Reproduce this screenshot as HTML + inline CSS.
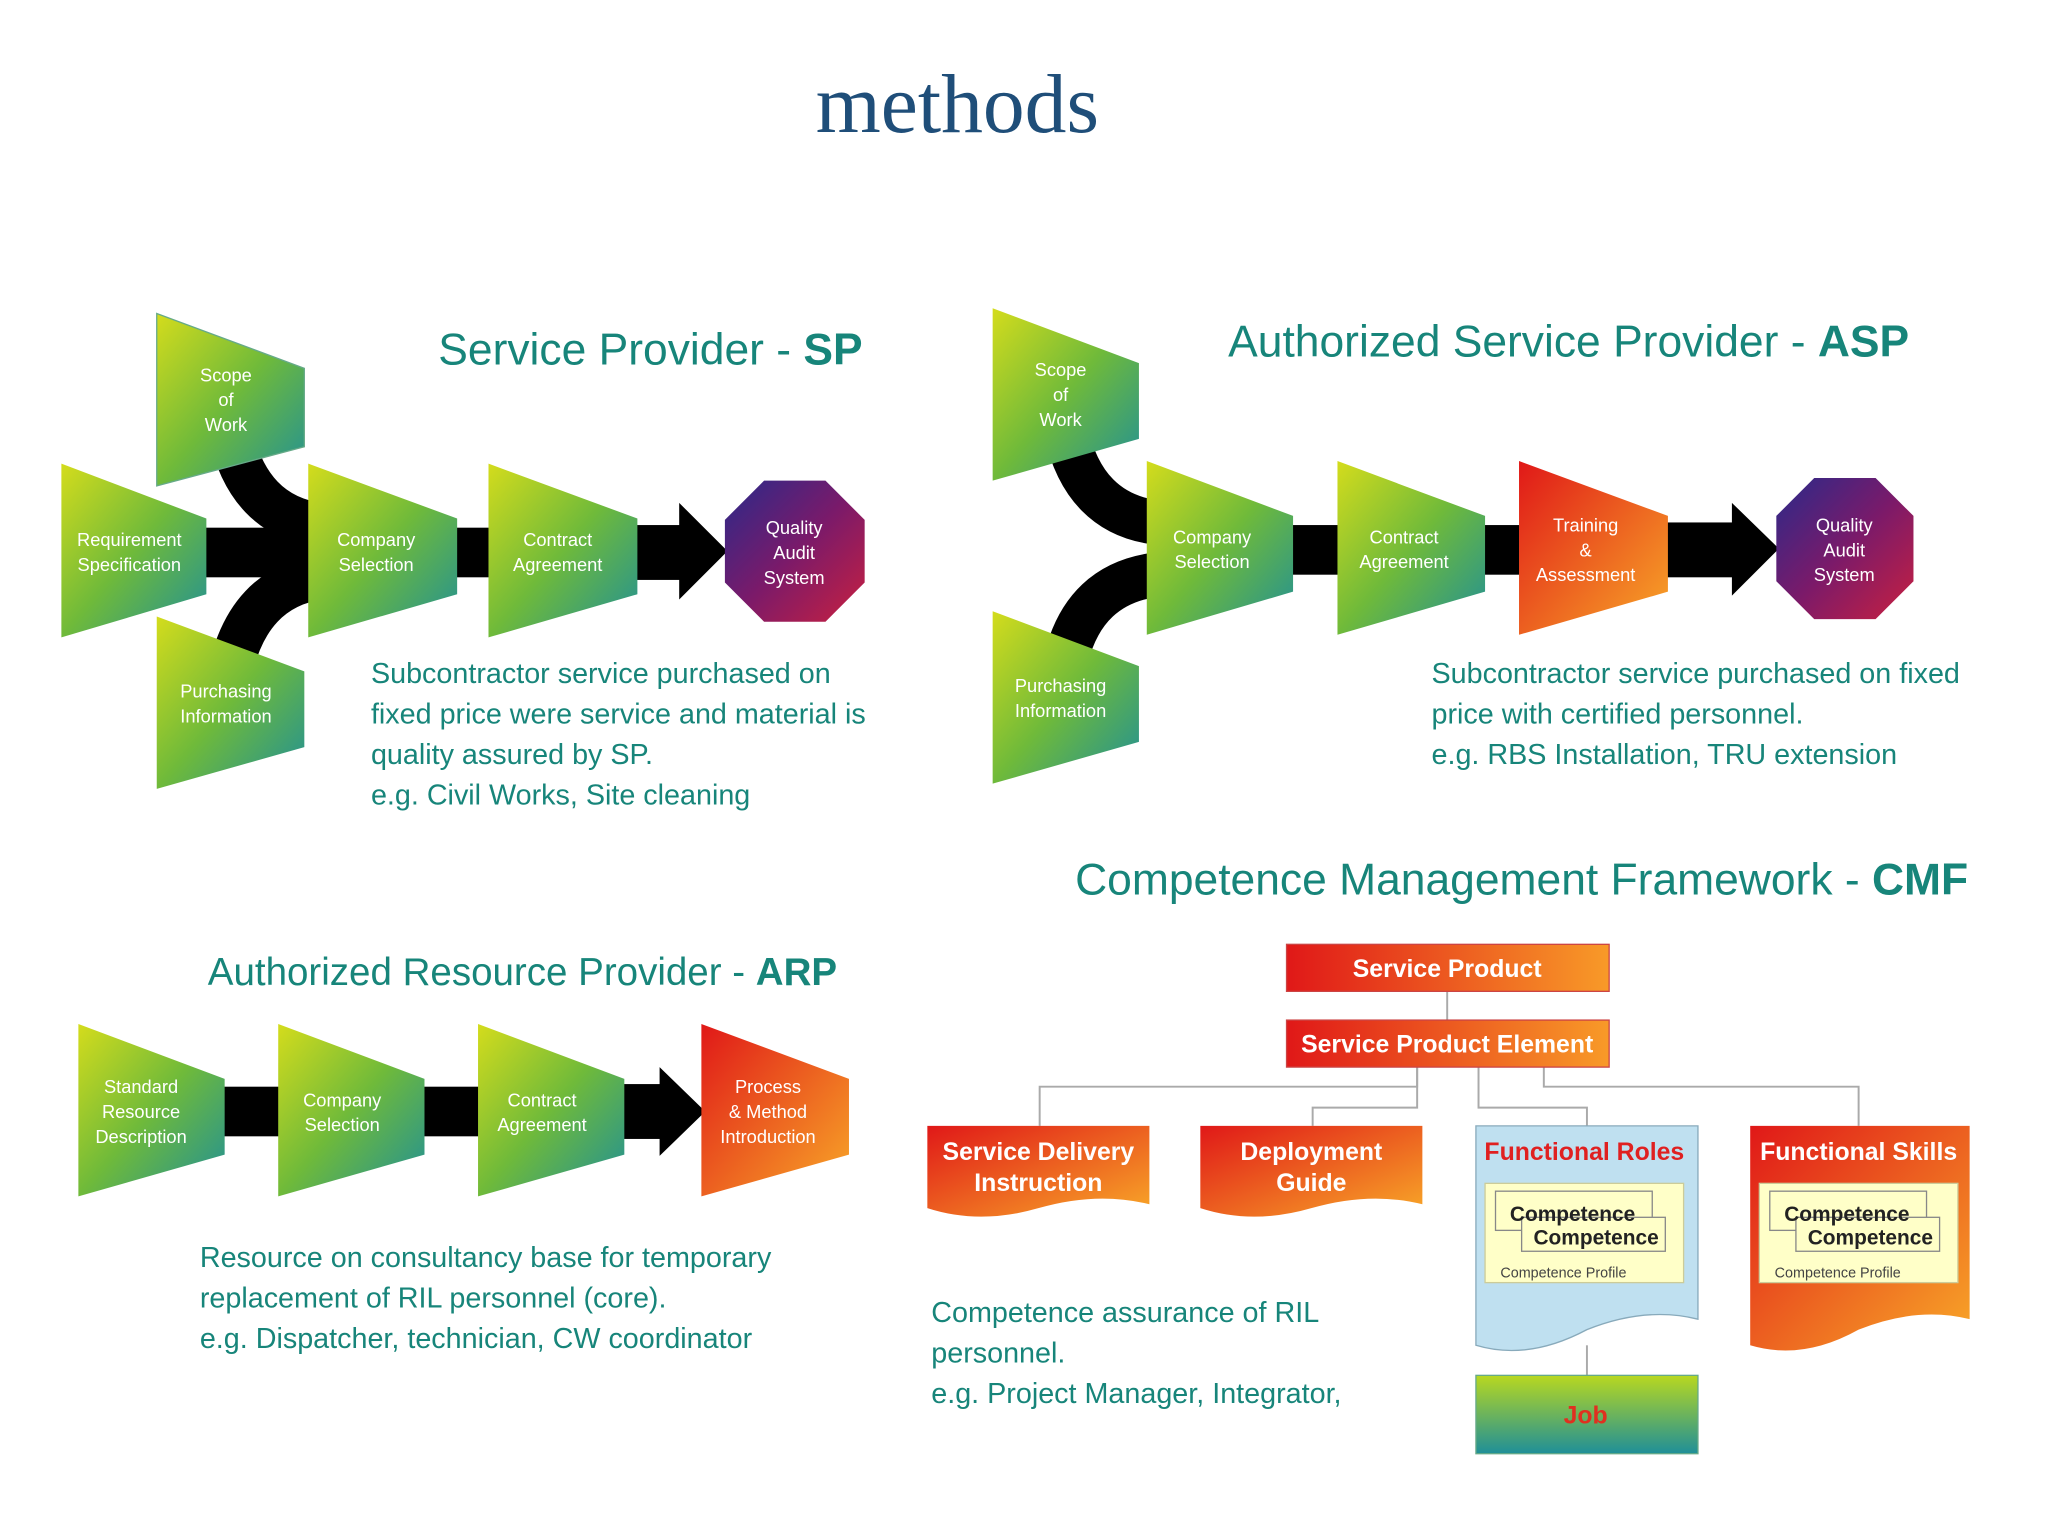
<!DOCTYPE html>
<html><head><meta charset="utf-8"><style>
html,body{margin:0;padding:0;background:#fff;}
svg{display:block;}
.t{font-family:"Liberation Sans",sans-serif;}
.lbl{font-family:"Liberation Sans",sans-serif;font-size:14px;fill:#fff;text-anchor:middle;}
.body{font-family:"Liberation Sans",sans-serif;font-size:22px;fill:#17857a;}
.ttl{font-family:"Liberation Sans",sans-serif;font-size:34px;fill:#17857a;}
.wb{font-family:"Liberation Sans",sans-serif;font-size:19px;fill:#fff;font-weight:bold;text-anchor:middle;}
</style></head><body>
<svg width="2048" height="1536" viewBox="0 0 1568 1176" xmlns="http://www.w3.org/2000/svg">
<defs>
<linearGradient id="g" x1="0" y1="0" x2="1" y2="1"><stop offset="0" stop-color="#d4dc1c"/><stop offset="0.5" stop-color="#6fba3a"/><stop offset="1" stop-color="#1f8f98"/></linearGradient>
<linearGradient id="r" x1="0" y1="0" x2="1" y2="1"><stop offset="0" stop-color="#e01818"/><stop offset="1" stop-color="#f8a828"/></linearGradient>
<linearGradient id="rh" x1="0" y1="0" x2="1" y2="0"><stop offset="0" stop-color="#e01818"/><stop offset="1" stop-color="#f89a28"/></linearGradient>
<linearGradient id="p" x1="0" y1="0" x2="1" y2="1"><stop offset="0" stop-color="#2a2a8a"/><stop offset="0.5" stop-color="#7a1a6a"/><stop offset="1" stop-color="#c82040"/></linearGradient>
<linearGradient id="gj" x1="0" y1="0" x2="0" y2="1"><stop offset="0" stop-color="#b8d820"/><stop offset="1" stop-color="#1f8f98"/></linearGradient>
</defs>
<rect width="1568" height="1176" fill="#fff"/>
<text x="733" y="101" font-family="Liberation Serif,serif" font-size="64" fill="#1f4e79" text-anchor="middle">methods</text>

<!-- SP -->
<text x="498" y="279" class="ttl" text-anchor="middle">Service Provider - <tspan font-weight="bold">SP</tspan></text>
<path d="M176,330 Q190,395 245,402" stroke="#000" stroke-width="34" fill="none"/>
<path d="M176,515 Q190,450 245,442" stroke="#000" stroke-width="34" fill="none"/>
<rect x="150" y="404" width="95" height="38" fill="#000"/>
<rect x="345" y="404" width="35" height="38" fill="#000"/>
<rect x="484" y="402" width="40" height="42" fill="#000"/>
<polygon points="520,385 557,422 520,459" fill="#000"/>
<polygon points="120,240 233,282 233,342 120,372" fill="url(#g)" stroke="#6a8" stroke-width="1"/>
<text class="lbl"><tspan x="173" y="292">Scope</tspan><tspan x="173" y="311">of</tspan><tspan x="173" y="330">Work</tspan></text>
<polygon points="47,355 158,397 158,455 47,488" fill="url(#g)"/>
<text class="lbl"><tspan x="99" y="418">Requirement</tspan><tspan x="99" y="437">Specification</tspan></text>
<polygon points="120,472 233,514 233,572 120,604" fill="url(#g)"/>
<text class="lbl"><tspan x="173" y="534">Purchasing</tspan><tspan x="173" y="553">Information</tspan></text>
<polygon points="236,355 350,397 350,455 236,488" fill="url(#g)"/>
<text class="lbl"><tspan x="288" y="418">Company</tspan><tspan x="288" y="437">Selection</tspan></text>
<polygon points="374,355 488,397 488,455 374,488" fill="url(#g)"/>
<text class="lbl"><tspan x="427" y="418">Contract</tspan><tspan x="427" y="437">Agreement</tspan></text>
<polygon points="585,368 632,368 662,398 662,446 632,476 585,476 555,446 555,398" fill="url(#p)"/>
<text class="lbl"><tspan x="608" y="409">Quality</tspan><tspan x="608" y="428">Audit</tspan><tspan x="608" y="447">System</tspan></text>
<text class="body"><tspan x="284" y="523">Subcontractor service purchased on</tspan><tspan x="284" y="554">fixed price were service and material is</tspan><tspan x="284" y="585">quality assured by SP.</tspan><tspan x="284" y="616">e.g. Civil Works, Site cleaning</tspan></text>

<!-- ASP -->
<text x="1201" y="273" class="ttl" text-anchor="middle">Authorized Service Provider - <tspan font-weight="bold">ASP</tspan></text>
<path d="M816,330 Q830,393 885,400" stroke="#000" stroke-width="34" fill="none"/>
<path d="M816,505 Q830,447 885,440" stroke="#000" stroke-width="34" fill="none"/>
<rect x="985" y="402" width="45" height="38" fill="#000"/>
<rect x="1130" y="402" width="40" height="38" fill="#000"/>
<rect x="1272" y="400" width="60" height="42" fill="#000"/>
<polygon points="1326,385 1362,420 1326,456" fill="#000"/>
<polygon points="760,236 872,278 872,336 760,368" fill="url(#g)"/>
<text class="lbl"><tspan x="812" y="288">Scope</tspan><tspan x="812" y="307">of</tspan><tspan x="812" y="326">Work</tspan></text>
<polygon points="760,468 872,510 872,568 760,600" fill="url(#g)"/>
<text class="lbl"><tspan x="812" y="530">Purchasing</tspan><tspan x="812" y="549">Information</tspan></text>
<polygon points="878,353 990,395 990,453 878,486" fill="url(#g)"/>
<text class="lbl"><tspan x="928" y="416">Company</tspan><tspan x="928" y="435">Selection</tspan></text>
<polygon points="1024,353 1137,395 1137,453 1024,486" fill="url(#g)"/>
<text class="lbl"><tspan x="1075" y="416">Contract</tspan><tspan x="1075" y="435">Agreement</tspan></text>
<polygon points="1163,353 1277,395 1277,453 1163,486" fill="url(#r)"/>
<text class="lbl"><tspan x="1214" y="407">Training</tspan><tspan x="1214" y="426">&amp;</tspan><tspan x="1214" y="445">Assessment</tspan></text>
<polygon points="1389,366 1436,366 1465,395 1465,445 1436,474 1389,474 1360,445 1360,395" fill="url(#p)"/>
<text class="lbl"><tspan x="1412" y="407">Quality</tspan><tspan x="1412" y="426">Audit</tspan><tspan x="1412" y="445">System</tspan></text>
<text class="body"><tspan x="1096" y="523">Subcontractor service purchased on fixed</tspan><tspan x="1096" y="554">price with certified personnel.</tspan><tspan x="1096" y="585">e.g. RBS Installation, TRU extension</tspan></text>

<!-- ARP -->
<text x="400" y="754" class="ttl" text-anchor="middle" style="font-size:29.5px">Authorized Resource Provider - <tspan font-weight="bold">ARP</tspan></text>
<rect x="168" y="832" width="50" height="38" fill="#000"/>
<rect x="320" y="832" width="50" height="38" fill="#000"/>
<rect x="470" y="830" width="40" height="42" fill="#000"/>
<polygon points="505,817 540,851 505,885" fill="#000"/>
<polygon points="60,784 172,826 172,884 60,916" fill="url(#g)"/>
<text class="lbl"><tspan x="108" y="837">Standard</tspan><tspan x="108" y="856">Resource</tspan><tspan x="108" y="875">Description</tspan></text>
<polygon points="213,784 325,826 325,884 213,916" fill="url(#g)"/>
<text class="lbl"><tspan x="262" y="847">Company</tspan><tspan x="262" y="866">Selection</tspan></text>
<polygon points="366,784 478,826 478,884 366,916" fill="url(#g)"/>
<text class="lbl"><tspan x="415" y="847">Contract</tspan><tspan x="415" y="866">Agreement</tspan></text>
<polygon points="537,784 650,826 650,884 537,916" fill="url(#r)"/>
<text class="lbl"><tspan x="588" y="837">Process</tspan><tspan x="588" y="856">&amp; Method</tspan><tspan x="588" y="875">Introduction</tspan></text>
<text class="body"><tspan x="153" y="970">Resource on consultancy base for temporary</tspan><tspan x="153" y="1001">replacement of RIL personnel (core).</tspan><tspan x="153" y="1032">e.g. Dispatcher, technician, CW coordinator</tspan></text>

<!-- CMF -->
<text x="1165" y="685" class="ttl" text-anchor="middle">Competence Management Framework - <tspan font-weight="bold">CMF</tspan></text>
<g stroke="#aaa" stroke-width="1.5" fill="none">
<line x1="1108" y1="759" x2="1108" y2="781"/>
<polyline points="1085,817 1085,832 796,832 796,862"/>
<polyline points="1085,817 1085,848 1005,848 1005,862"/>
<polyline points="1132,817 1132,848 1215,848 1215,862"/>
<polyline points="1182,817 1182,832 1423,832 1423,862"/>
<line x1="1215" y1="1030" x2="1215" y2="1053"/>
</g>
<rect x="985" y="723" width="247" height="36" fill="url(#rh)" stroke="#c44" stroke-width="1"/>
<text x="1108" y="748" class="wb">Service Product</text>
<rect x="985" y="781" width="247" height="36" fill="url(#rh)" stroke="#c44" stroke-width="1"/>
<text x="1108" y="806" class="wb">Service Product Element</text>
<path d="M710,862 H880 V922 Q840,912 795,925 Q750,938 710,925 Z" fill="url(#r)"/>
<text class="wb"><tspan x="795" y="888">Service Delivery</tspan><tspan x="795" y="912">Instruction</tspan></text>
<path d="M919,862 H1089 V922 Q1049,912 1004,925 Q959,938 919,925 Z" fill="url(#r)"/>
<text class="wb"><tspan x="1004" y="888">Deployment</tspan><tspan x="1004" y="912">Guide</tspan></text>
<path d="M1130,862 H1300 V1010 Q1260,1000 1215,1018 Q1170,1042 1130,1030 Z" fill="#bfe0f0" stroke="#8ab" stroke-width="1"/>
<text x="1213" y="888" class="wb" style="fill:#e02020">Functional Roles</text>
<rect x="1137" y="906" width="152" height="76" fill="#ffffc8" stroke="#cc9" />
<rect x="1145" y="912" width="120" height="30" fill="#ffffc8" stroke="#888"/>
<rect x="1165" y="932" width="110" height="26" fill="#ffffc8" stroke="#888"/>
<text x="1204" y="935" class="t" font-size="16" font-weight="bold" text-anchor="middle" fill="#222">Competence</text>
<text x="1222" y="953" class="t" font-size="16" font-weight="bold" text-anchor="middle" fill="#222">Competence</text>
<text x="1197" y="978" class="t" font-size="11" text-anchor="middle" fill="#444">Competence Profile</text>
<path d="M1340,862 H1508 V1010 Q1468,1000 1423,1018 Q1380,1042 1340,1030 Z" fill="url(#r)"/>
<text x="1423" y="888" class="wb">Functional Skills</text>
<rect x="1347" y="906" width="152" height="76" fill="#ffffc8" stroke="#cc9"/>
<rect x="1355" y="912" width="120" height="30" fill="#ffffc8" stroke="#888"/>
<rect x="1375" y="932" width="110" height="26" fill="#ffffc8" stroke="#888"/>
<text x="1414" y="935" class="t" font-size="16" font-weight="bold" text-anchor="middle" fill="#222">Competence</text>
<text x="1432" y="953" class="t" font-size="16" font-weight="bold" text-anchor="middle" fill="#222">Competence</text>
<text x="1407" y="978" class="t" font-size="11" text-anchor="middle" fill="#444">Competence Profile</text>
<rect x="1130" y="1053" width="170" height="60" fill="url(#gj)" stroke="#6a8"/>
<text x="1214" y="1090" class="t" font-size="19" font-weight="bold" text-anchor="middle" fill="#e03020">Job</text>
<text class="body"><tspan x="713" y="1012">Competence assurance of RIL</tspan><tspan x="713" y="1043">personnel.</tspan><tspan x="713" y="1074">e.g.  Project Manager, Integrator,</tspan></text>
</svg>
</body></html>
